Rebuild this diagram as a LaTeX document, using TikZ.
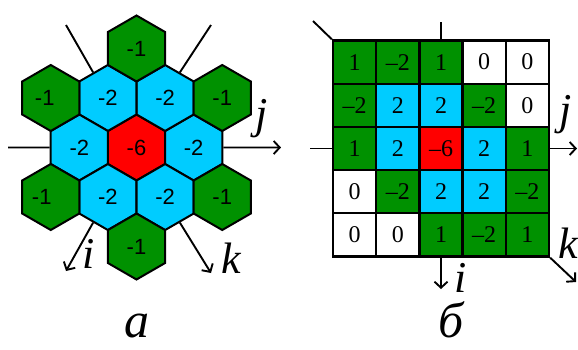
\documentclass[tikz,border=0pt]{standalone}
\usepackage{fontspec}
\setmainfont{Liberation Serif}
\newfontfamily\hexfont{Liberation Sans}
\usetikzlibrary{shapes.geometric,arrows.meta}
\definecolor{cgreen}{RGB}{0,145,0}
\definecolor{cblue}{RGB}{0,204,255}
\definecolor{cred}{RGB}{255,0,0}
\newcommand\gridcell[4]{\node[sq,fill=#3] (s#1#2) at ({354.6+43.2*#2},{-62.1-43.2*#1}) {#4};}
\begin{document}
\begin{tikzpicture}[x=1pt,y=1pt,
  hexcell/.style={regular polygon, regular polygon sides=6, shape border rotate=30,
    minimum size=66pt, inner sep=0pt, draw=black, line width=2pt,
    font=\hexfont\fontsize{22}{22}\selectfont},
  hg/.style={hexcell, fill=cgreen},
  hb/.style={hexcell, fill=cblue},
  hr/.style={hexcell, fill=cred},
  sq/.style={rectangle, minimum size=43.2pt, inner sep=0pt, draw=black, line width=2.3pt,
    font=\fontsize{24}{24}\selectfont},
  axisline/.style={line width=1.9pt},
  axisarrow/.style={axisline, -{Straight Barb[length=6pt,width=13pt,line width=1.9pt]}},
  lab/.style={font=\itshape\fontsize{44}{44}\selectfont, inner sep=0pt, anchor=base},
  caption/.style={font=\itshape\fontsize{50}{50}\selectfont, inner sep=0pt, anchor=base}
]
\useasboundingbox (0,0) rectangle (578,-349);

% ---------- hexagonal stencil ----------
\begin{scope}[shift={(136.5,-147.5)}]
  \node[hr] (h0) at (0,0) {-6};
  \node[hb] (b0)   at (0:57.2)   {-2};
  \node[hb] (b60)  at (60:57.2)  {-2};
  \node[hb] (b120) at (120:57.2) {-2};
  \node[hb] (b180) at (180:57.2) {-2};
  \node[hb] (b240) at (240:57.2) {-2};
  \node[hb] (b300) at (300:57.2) {-2};
  \node[hg] (g30)  at (30:99)  {-1};
  \node[hg] (g90)  at (90:99)  {-1};
  \node[hg] (g150) at (150:99) {\hspace*{-12pt}-1};
  \node[hg] (g210) at (210:99) {\hspace*{-18pt}-1};
  \node[hg] (g270) at (270:99) {-1};
  \node[hg] (g330) at (330:99) {-1};
\end{scope}

\coordinate (hjl) at (8,-147.5);
\coordinate (hjr) at (281,-147.5);
\coordinate (hul) at (66,-25);
\coordinate (hur) at (211,-25);
\coordinate (hit) at (66,-271);
\coordinate (hkt) at (211,-273);

\draw[axisline] (hjl) -- (b180.180);
\draw[axisarrow] (b0.0) -- (hjr);
\draw[axisline] (b120.120) -- (hul);
\draw[axisline] (b60.60) -- (hur);
\draw[axisarrow] (b240.240) -- (hit);
\draw[axisarrow] (b300.300) -- (hkt);

\node[lab] (hj) at (262,-128) {j};
\node[lab] (hi) at (88.5,-268) {i};
\node[lab] (hk) at (231,-273) {k};

% ---------- square stencil ----------
\gridcell{0}{0}{cgreen}{1}
\gridcell{0}{1}{cgreen}{--2}
\gridcell{0}{2}{cgreen}{1}
\gridcell{0}{3}{white}{0}
\gridcell{0}{4}{white}{0}
\gridcell{1}{0}{cgreen}{--2}
\gridcell{1}{1}{cblue}{2}
\gridcell{1}{2}{cblue}{2}
\gridcell{1}{3}{cgreen}{--2}
\gridcell{1}{4}{white}{0}
\gridcell{2}{0}{cgreen}{1}
\gridcell{2}{1}{cblue}{2}
\gridcell{2}{2}{cred}{--6}
\gridcell{2}{3}{cblue}{2}
\gridcell{2}{4}{cgreen}{1}
\gridcell{3}{0}{white}{0}
\gridcell{3}{1}{cgreen}{--2}
\gridcell{3}{2}{cblue}{2}
\gridcell{3}{3}{cblue}{2}
\gridcell{3}{4}{cgreen}{--2}
\gridcell{4}{0}{white}{0}
\gridcell{4}{1}{white}{0}
\gridcell{4}{2}{cgreen}{1}
\gridcell{4}{3}{cgreen}{--2}
\gridcell{4}{4}{cgreen}{1}

\coordinate (sjl) at (310,-148.5);
\coordinate (sjr) at (577,-148.5);
\coordinate (sit) at (441,-22);
\coordinate (sib) at (441,-289);
\coordinate (sdl) at (313,-21);
\coordinate (sdr) at (576,-282);

\draw[axisline] (sjl) -- (s20.west);
\draw[axisarrow] (s24.east) -- (sjr);
\draw[axisline] (sit) -- (s02.north);
\draw[axisarrow] (s42.south) -- (sib);
\draw[axisline] (sdl) -- (s00.north west);
\draw[axisarrow] (s44.south east) -- (sdr);

\node[lab] (sj) at (566,-124) {j};
\node[lab] (sk) at (568,-258) {k};
\node[lab] (si) at (461,-292) {i};

% ---------- captions ----------
\node[caption] (ca) at (136.5,-337) {а};
\node[caption] (cb) at (451,-337) {б};
\end{tikzpicture}
\end{document}
